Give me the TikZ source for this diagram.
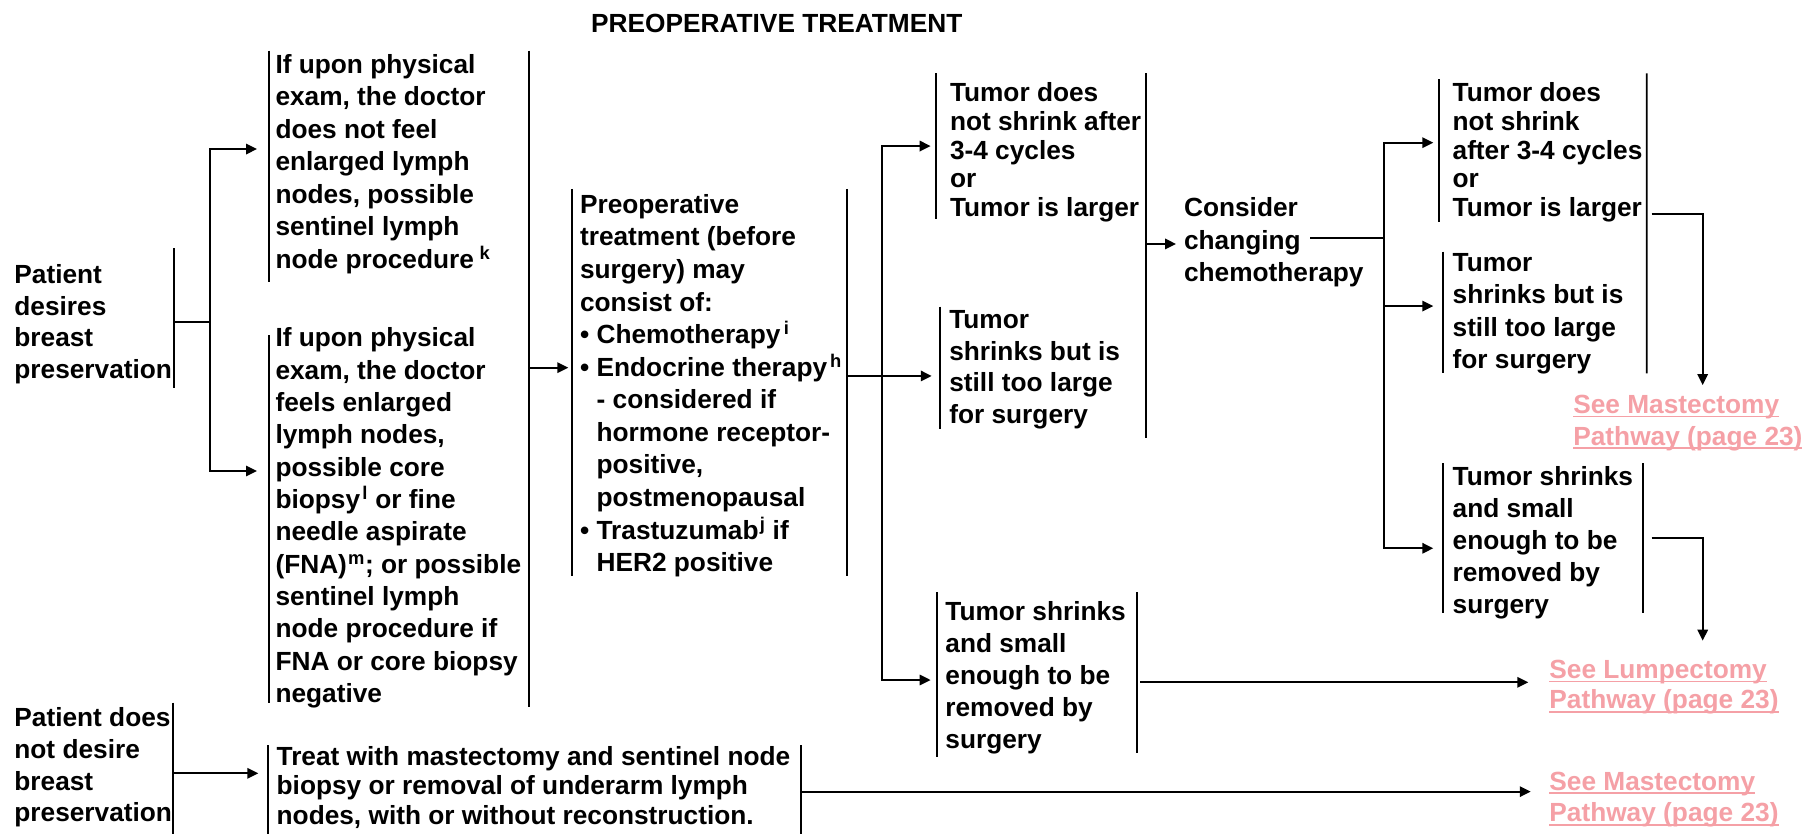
\documentclass[tikz,border=0pt]{standalone}
\usepackage{fontspec}
\setmainfont{Liberation Sans}
\usetikzlibrary{arrows.meta}
\definecolor{linkpink}{RGB}{245,160,166}

% box text: #1 height, #2 width, #3 left gap, #4 first baseline from top, #5 baselineskip, #6 text
\newcommand{\bx}[6]{%
  \makebox[#2][l]{\parbox[c][#1][t]{700pt}{%
    \fontsize{22.8pt}{#5}\selectfont\bfseries\raggedright\leftskip=#3\relax
    \vspace*{\dimexpr#4-17pt\relax}\rule{0pt}{17pt}#6}}}
% footnote letter
\newcommand{\supr}[2][2pt]{\hspace{#1}\textsuperscript{#2}}
% underlined link text
\newcommand{\lnk}[1]{\leavevmode\setbox0=\hbox{#1}\rlap{\rule[-3.6pt]{\wd0}{1.5pt}}\box0}
% bullet item and continuation indent
\newcommand{\itm}{\makebox[14.4pt][l]{•}}
\newcommand{\ind}{\hspace*{14.4pt}}

\tikzset{
  ln/.style={line width=1.7pt},
  arr/.style={ln, -{Triangle[length=9.5pt,width=9pt]}},
  arrtwo/.style={ln, {Triangle[length=9.5pt,width=9pt]}-{Triangle[length=9.5pt,width=9pt]}},
  bxn/.style={inner sep=0pt, outer sep=0pt, anchor=north west},
}

\begin{document}
\begin{tikzpicture}[x=1pt,y=-1pt]
\fill[white] (0,0) rectangle (1568,724);
\useasboundingbox (0,0) rectangle (1568,724);

% title
\node[anchor=base west, inner sep=0pt] (title) at (513.1,28.1)
  {\fontsize{22.8pt}{27pt}\selectfont\bfseries PREOPERATIVE TREATMENT};

% boxes
\node[bxn] (P1) at (12.5,215.6) {\bx{121.5pt}{138.7pt}{0pt}{30.4pt}{27.5pt}{Patient\\desires\\breast\\preservation}};
\node[bxn] (P2) at (12.5,610) {\bx{114pt}{138pt}{0pt}{20.9pt}{27.5pt}{Patient does\\not desire\\breast\\preservation}};

\node[bxn] (A) at (233.6,44) {\bx{200.6pt}{225.9pt}{5.6pt}{19.6pt}{28.2pt}{If upon physical\\exam, the doctor\\does not feel\\enlarged lymph\\nodes, possible\\sentinel lymph\\node procedure\supr[5pt]{k}}};
\node[bxn] (B) at (233.6,290.9) {\bx{319.7pt}{225.9pt}{5.6pt}{10.1pt}{28.1pt}{If upon physical\\exam, the doctor\\feels enlarged\\lymph nodes,\\possible core\\biopsy\supr{l} or fine\\needle aspirate\\(FNA)\supr[1pt]{m}; or possible\\sentinel lymph\\node procedure if\\FNA or core biopsy\\negative}};

\node[bxn] (C) at (496.4,164) {\bx{336pt}{238.6pt}{7.2pt}{21.2pt}{28.28pt}{Preoperative\\treatment (before\\surgery) may\\consist of:\\\itm Chemotherapy\supr[3pt]{i}\\\itm Endocrine therapy\supr[2.5pt]{h}\\\ind - considered if\\\ind hormone receptor-\\\ind positive,\\\ind postmenopausal\\\itm Trastuzumab\supr[1pt]{j} if\\\ind HER2 positive}};

\node[bxn] (D1) at (812.6,63.7) {\bx{126.7pt}{182.4pt}{12.2pt}{24.6pt}{24.95pt}{Tumor does\\not shrink after\\3-4 cycles\\or\\Tumor is larger}};
\node[bxn] (D2) at (816.1,266.2) {\bx{106.6pt}{178.9pt}{8.1pt}{18.9pt}{27.5pt}{Tumor\\shrinks but is\\still too large\\for surgery}};
\node[bxn] (D3) at (813.2,514.3) {\bx{142.7pt}{173.9pt}{7.6pt}{24.6pt}{27.7pt}{Tumor shrinks\\and small\\enough to be\\removed by\\surgery}};

\node[bxn] (E) at (1021,160) {\bx{100pt}{180pt}{7pt}{28.1pt}{28.2pt}{Consider\\changing\\chemotherapy}};

\node[bxn] (F1) at (1249.6,68.9) {\bx{123.6pt}{180.1pt}{11.6pt}{19.4pt}{24.95pt}{Tumor does\\not shrink\\after 3-4 cycles\\or\\Tumor is larger}};
\node[bxn] (F2) at (1252.5,218.5) {\bx{105.6pt}{177.2pt}{8.7pt}{17.4pt}{28pt}{Tumor\\shrinks but is\\still too large\\for surgery}};
\node[bxn] (F3) at (1252.5,402.3) {\bx{129.6pt}{174.3pt}{8.7pt}{18.8pt}{27.85pt}{Tumor shrinks\\and small\\enough to be\\removed by\\surgery}};

\node[bxn] (G) at (233,647) {\bx{77pt}{462.4pt}{7.2pt}{17.2pt}{26pt}{Treat with mastectomy and sentinel node\\biopsy or removal of underarm lymph\\nodes, with or without reconstruction.}};

\node[bxn] (L1) at (1366,338) {\bx{60pt}{200pt}{0pt}{20.7pt}{27.7pt}{\color{linkpink}\lnk{See Mastectomy}\\\lnk{Pathway (page 23)}}};
\node[bxn] (L2) at (1345.2,560) {\bx{65pt}{220pt}{0pt}{28.9pt}{26.1pt}{\color{linkpink}\lnk{See Lumpectomy}\\\lnk{Pathway (page 23)}}};
\node[bxn] (L3) at (1345.2,670) {\bx{54pt}{220pt}{0pt}{15.9pt}{27.5pt}{\color{linkpink}\lnk{See Mastectomy}\\\lnk{Pathway (page 23)}}};

% bracket lines of the boxes
\draw[ln] (P1.north east) -- (P1.south east);
\draw[ln] (P2.north east) -- (P2.south east);
\draw[ln] (A.north west) -- (A.south west);
\draw[ln] (B.north west) -- (B.south west);
\draw[ln] (A.north east) -- ([yshift=-3pt]B.south east);
\draw[ln] (C.north west) -- (C.south west);
\draw[ln] (C.north east) -- (C.south east);
\draw[ln] (D1.north west) -- (D1.south west);
\draw[ln] (D2.north west) -- (D2.south west);
\draw[ln] (D1.north east) -- ([yshift=-7.8pt]D2.south east);
\draw[ln] (D3.north west) -- (D3.south west);
\draw[ln] (D3.north east) -- ([yshift=3.5pt]D3.south east);
\draw[ln] (F1.north west) -- (F1.south west);
\draw[ln] (F2.north west) -- (F2.south west);
\draw[ln] ([yshift=5.2pt]F1.north east) -- (F2.south east);
\draw[ln] (F3.north west) -- (F3.south west);
\draw[ln] (F3.north east) -- (F3.south east);
\draw[ln] (G.north west) -- (G.south west);
\draw[ln] (G.north east) -- (G.south east);

% junction points
\coordinate (s1)  at (182.1,279.3);
\coordinate (s1a) at (182.1,129.4);
\coordinate (s1b) at (182.1,408.9);
\coordinate (s2)  at (459.5,319.2);
\coordinate (s3)  at (766,326.4);
\coordinate (s3a) at (766,126.8);
\coordinate (s3b) at (766,590.4);
\coordinate (s4)  at (995,211.8);
\coordinate (s5)  at (1137.4,206.9);
\coordinate (s5a) at (1201.5,123.9);
\coordinate (s5m) at (1201.5,265.7);
\coordinate (s5b) at (1201.5,476);
\coordinate (c6)  at (1478.3,186.1);
\coordinate (c7)  at (1478.3,466.8);
\coordinate (c8)  at (990,592.4);
\coordinate (c9)  at (150.5,671.4);
\coordinate (c10) at (695.4,687.3);

% connectors
\draw[ln] (P1.east |- s1) -- (s1);
\draw[arrtwo, shorten <=10.5pt, shorten >=10.5pt] (s1a -| A.west) -- (s1a) -- (s1b) -- (s1b -| B.west);
\draw[arr, shorten >=3pt] (s2) -- (s2 -| C.west);
\draw[arr, shorten >=7.2pt] (s3 -| C.east) -- (s3 -| D2.west);
\draw[arrtwo, shorten <=4.6pt, shorten >=5.2pt] (s3a -| D1.west) -- (s3a) -- (s3b) -- (s3b -| D3.west);
\draw[arr] (s4) -- (s4 -| E.west);
\draw[ln] (s5) -- (s5 -| s5a);
\draw[arrtwo, shorten <=5.2pt, shorten >=8.1pt] (s5a -| F1.west) -- (s5a) -- (s5b) -- (s5b -| F3.west);
\draw[arr, shorten >=8.1pt] (s5m) -- (s5m -| F2.west);
\draw[arr, shorten <=4.3pt, shorten >=3.7pt] (c6 -| F1.east) -- (c6) -- (c6 |- L1.north);
\draw[arr, shorten <=7.2pt, shorten >=3.8pt] (c7 -| F3.east) -- (c7) -- (c7 |- L2.north);
\draw[arr, shorten <=2.9pt, shorten >=18.3pt] (c8 -| D3.east) -- (c8 -| L2.west);
\draw[arr, shorten >=8.7pt] (c9 -| P2.east) -- (c9 -| G.west);
\draw[arr, shorten >=16.2pt] (c10 -| G.east) -- (c10 -| L3.west);
\end{tikzpicture}
\end{document}
